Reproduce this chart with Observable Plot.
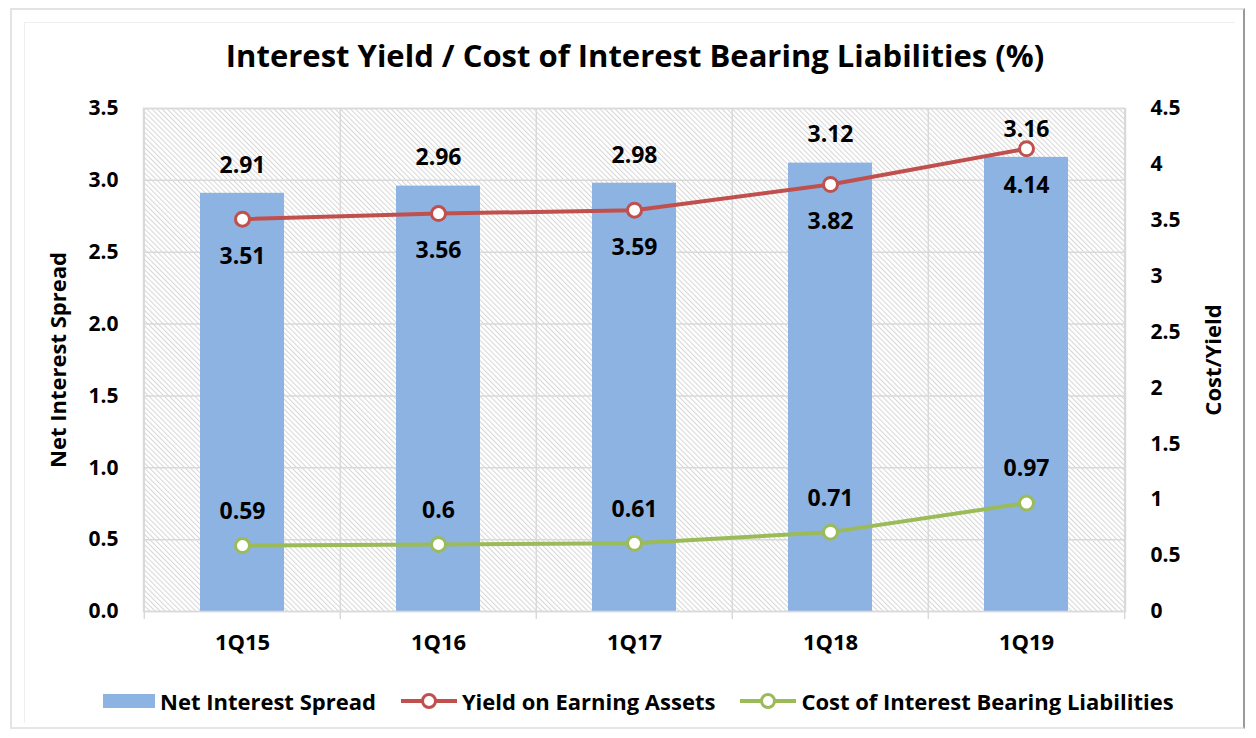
<!DOCTYPE html>
<html><head><meta charset="utf-8">
<script src="https://cdn.jsdelivr.net/npm/d3@7"></script>
<script src="https://cdn.jsdelivr.net/npm/@observablehq/plot@0.6"></script>
<style>
body{margin:0;background:#fff;font-family:"Open Sans",sans-serif;}
#wrap{position:relative;width:1256px;height:738px;overflow:hidden;background:#fff;}
#outer{position:absolute;left:10px;top:8px;width:1231px;height:717px;border:2px solid #e3e3e3;border-right-color:#9a9a9a;border-bottom-color:#e6e6e6;}
#inner{position:absolute;left:24px;top:22px;width:1210px;height:700px;border-left:1px solid #efefef;border-top:1px solid #efefef;}
#title{position:absolute;left:7px;top:34px;width:1256px;text-align:center;font-weight:bold;font-size:31px;line-height:42px;color:#000;}
#chart{position:absolute;left:0;top:80px;}
#legend{position:absolute;left:103px;top:687px;height:28px;display:flex;align-items:center;font-weight:bold;font-size:22px;color:#000;white-space:nowrap;}
#legend .item{display:flex;align-items:center;margin-right:25px;}
#legend svg{margin-right:5px;}
</style></head><body>
<div id="wrap">
  <div id="outer"></div>
  <div id="inner"></div>
  <div id="title">Interest Yield / Cost of Interest Bearing Liabilities (%)</div>
  <div id="chart"></div>
  <div id="legend"></div>
</div>
<script>
const categories = ["1Q15", "1Q16", "1Q17", "1Q18", "1Q19"];
const netInterestSpread = [2.91, 2.96, 2.98, 3.12, 3.16];
const yieldOnEarningAssets = [3.51, 3.56, 3.59, 3.82, 4.14];
const costOfLiabilities = [0.59, 0.6, 0.61, 0.71, 0.97];
const leftTicks = [0, 0.5, 1, 1.5, 2, 2.5, 3, 3.5];
const rightTicks = [0, 0.5, 1, 1.5, 2, 2.5, 3, 3.5, 4, 4.5];
const seriesNames = ["Net Interest Spread", "Yield on Earning Assets", "Cost of Interest Bearing Liabilities"];
const colors = {bar: "#8DB3E2", yield: "#C0504D", cost: "#9BBB59"};

const leftMax = 3.5, rightMax = 4.5;
const k = leftMax / rightMax; // maps right-axis values onto the left scale

const rows = categories.map((c, i) => ({
  cat: c,
  spread: netInterestSpread[i],
  yld: yieldOnEarningAssets[i],
  cost: costOfLiabilities[i]
}));

const W = 1256, H = 600, ML = 143, MR = 131, MT = 28, MB = 69;
const step = (W - ML - MR) / categories.length;
const font = "'Open Sans', sans-serif";

const svg = Plot.plot({
  width: W, height: H,
  marginLeft: ML, marginRight: MR, marginTop: MT, marginBottom: MB,
  style: {fontFamily: font, fontWeight: "bold", color: "#000", background: "transparent"},
  x: {domain: categories, paddingInner: 0.57, paddingOuter: 0.285, axis: null},
  y: {domain: [0, leftMax], axis: null},
  marks: [
    Plot.frame({fill: "url(#hatch)", stroke: null}),
    Plot.gridY(leftTicks, {stroke: "#d9d9d9", strokeOpacity: 1, strokeWidth: 1.5}),
    Plot.ruleX(categories, {x: d => d, dx: -step / 2, stroke: "#d9d9d9", strokeWidth: 1.5, insetBottom: -8}),
    Plot.ruleX(categories.slice(-1), {x: d => d, dx: step / 2, stroke: "#d9d9d9", strokeWidth: 1.5, insetBottom: -8}),
    Plot.barY(rows, {x: "cat", y: "spread", fill: colors.bar}),
    Plot.frame({stroke: "#d9d9d9", strokeWidth: 1.5}),
    Plot.axisX({tickSize: 0, tickPadding: 23, fontSize: 22, fontWeight: "bold", label: null}),
    Plot.axisY(leftTicks, {anchor: "left", tickSize: 0, tickPadding: 25, fontSize: 21, tickFormat: d3.format(".1f"), label: null}),
    Plot.axisY(rightTicks.map(t => t * k), {anchor: "right", tickSize: 0, tickPadding: 25, fontSize: 21, tickFormat: v => String(Math.round(v / k * 10) / 10), label: null}),
    Plot.text(["Net Interest Spread"], {frameAnchor: "left", textAnchor: "middle", dx: -85, rotate: -90, fontSize: 22, fontWeight: "bold"}),
    Plot.text(["Cost/Yield"], {frameAnchor: "right", textAnchor: "middle", dx: 88, rotate: -90, fontSize: 22, fontWeight: "bold"}),
    Plot.line(rows, {x: "cat", y: d => d.yld * k, stroke: colors.yield, strokeWidth: 4}),
    Plot.line(rows, {x: "cat", y: d => d.cost * k, stroke: colors.cost, strokeWidth: 4}),
    Plot.dot(rows, {x: "cat", y: d => d.yld * k, r: 7, fill: "white", stroke: colors.yield, strokeWidth: 3}),
    Plot.dot(rows, {x: "cat", y: d => d.cost * k, r: 7, fill: "white", stroke: colors.cost, strokeWidth: 3}),
    Plot.text(rows, {x: "cat", y: "spread", text: d => String(d.spread), dy: -28, fontSize: 23, fontWeight: "bold"}),
    Plot.text(rows, {x: "cat", y: d => d.yld * k, text: d => String(d.yld), dy: 37, fontSize: 23, fontWeight: "bold"}),
    Plot.text(rows, {x: "cat", y: d => d.cost * k, text: d => String(d.cost), dy: -34, fontSize: 23, fontWeight: "bold"})
  ]
});

// hatch pattern for the plot area
const defs = d3.select(svg).insert("defs", ":first-child");
const pat = defs.append("pattern").attr("id", "hatch").attr("patternUnits", "userSpaceOnUse")
  .attr("width", 3.6).attr("height", 3.6).attr("patternTransform", "rotate(-45)");
pat.append("rect").attr("width", 3.6).attr("height", 3.6).attr("fill", "white");
pat.append("line").attr("x1", 0.5).attr("y1", 0).attr("x2", 0.5).attr("y2", 3.6)
  .attr("stroke", "#d6d6d6").attr("stroke-width", 1);

document.getElementById("chart").appendChild(svg);

// legend
const legend = d3.select("#legend");
const it0 = legend.append("div").attr("class", "item");
it0.append("svg").attr("width", 52).attr("height", 16).append("rect").attr("width", 52).attr("height", 14).attr("y", 1).attr("fill", colors.bar);
it0.append("span").text(seriesNames[0]);
[[seriesNames[1], colors.yield], [seriesNames[2], colors.cost]].forEach(([name, c]) => {
  const it = legend.append("div").attr("class", "item");
  const s = it.append("svg").attr("width", 56).attr("height", 18);
  s.append("line").attr("x1", 0).attr("x2", 56).attr("y1", 9).attr("y2", 9).attr("stroke", c).attr("stroke-width", 4);
  s.append("circle").attr("cx", 28).attr("cy", 9).attr("r", 6.5).attr("fill", "white").attr("stroke", c).attr("stroke-width", 3);
  it.append("span").text(name);
});
</script>
</body></html>
